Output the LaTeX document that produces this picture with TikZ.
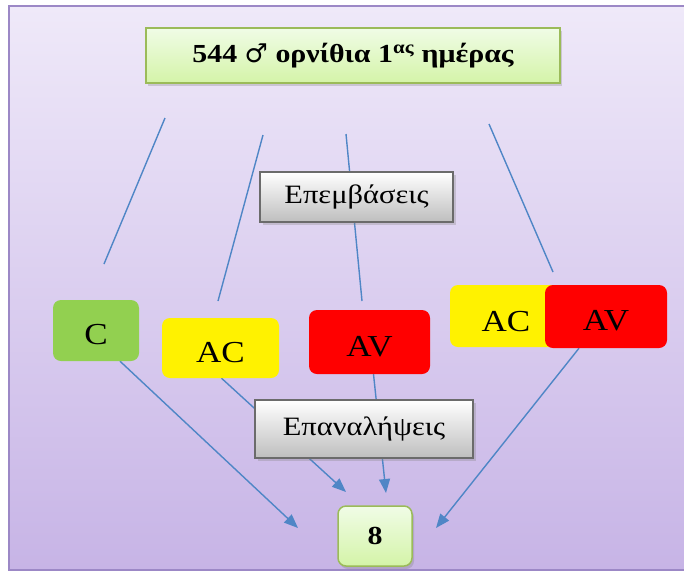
\documentclass[tikz,border=0pt]{standalone}
\usepackage{fontspec}
\setmainfont{Liberation Serif}[FakeStretch=1.15]
\newfontfamily\symfont{DejaVu Sans}
\usetikzlibrary{arrows.meta,shadows,backgrounds,calc}
\pgfdeclarelayer{bgframe}
\pgfdeclarelayer{background}
\pgfsetlayers{bgframe,background,main}
\definecolor{frametop}{HTML}{EFE9F9}
\definecolor{framebot}{HTML}{C7B4E6}
\definecolor{frameline}{HTML}{9C88C6}
\definecolor{lgtop}{HTML}{F0FCE6}
\definecolor{lgbot}{HTML}{D4F4A8}
\definecolor{lgline}{HTML}{9BBB59}
\definecolor{cgreen}{HTML}{92D050}
\definecolor{conn}{HTML}{4F86C6}
\definecolor{grayline}{HTML}{6B6B6B}
\definecolor{graybot}{HTML}{BEBEBE}
\tikzset{
  lightbox/.style={draw=lgline, line width=1.5pt, top color=lgtop, bottom color=lgbot,
    drop shadow={shadow xshift=2pt, shadow yshift=-3pt, opacity=0.3}, inner sep=0pt},
  graybox/.style={draw=grayline, line width=2.5pt, top color=white, bottom color=graybot,
    drop shadow={shadow xshift=3pt, shadow yshift=-3pt, opacity=0.3}, inner sep=0pt,
    font=\fontsize{26.5}{30}\selectfont},
  colbox/.style={rounded corners=8pt, inner sep=0pt, text height=28pt, text depth=0pt,
    font=\fontsize{30.5}{34}\selectfont},
  conline/.style={draw=conn, line width=1.4pt},
  conarrow/.style={conline, -{Triangle[length=14pt,width=11pt]}}
}
\begin{document}
\begin{tikzpicture}[x=1pt,y=-1pt]
\useasboundingbox (0,0) rectangle (684,571);
\begin{pgfonlayer}{bgframe}
\fill[white] (0,0) rectangle (684,571);
\draw[draw=frameline, line width=1.5pt, top color=frametop, bottom color=framebot]
  (9,6) rectangle (695,570);
\end{pgfonlayer}

% nodes
\node[lightbox, minimum width=414pt, minimum height=55pt] (top) at (353,55.5)
  {\fontsize{26}{30}\selectfont\bfseries 544 {\symfont\mdseries ♂} ορνίθια 1\textsuperscript{ας} ημέρας};
\node[graybox, minimum width=193pt, minimum height=50pt] (epem) at (356.5,197) {Επεμβάσεις};
\node[colbox, fill=cgreen, minimum width=86pt, minimum height=61pt] (C) at (96,330.5) {C};
\node[colbox, fill=yellow, minimum width=117pt, minimum height=60pt] (AC1) at (220.5,348) {AC};
\node[colbox, fill=red, minimum width=121pt, minimum height=64pt] (AV1) at (369.5,342) {AV};
\node[colbox, fill=yellow, minimum width=118pt, minimum height=62pt] (AC2) at (509,316) {};
\node[colbox, text height=28pt] (AC2t) at (506,317) {AC};
\node[colbox, fill=red, minimum width=122pt, minimum height=63pt] (AV2) at (606,316.5) {AV};
\node[graybox, minimum width=218pt, minimum height=58pt] (epan) at (364,429) {Επαναλήψεις};
\node[lightbox, rounded corners=8pt, minimum width=74pt, minimum height=60pt] (eight) at (375,536)
  {\fontsize{26}{30}\selectfont\bfseries 8};

% free ends
\coordinate (l1a) at (165,118); \coordinate (l1b) at (104,264);
\coordinate (l2a) at (263,135); \coordinate (l2b) at (218,301);
\coordinate (l3a) at (346,134); \coordinate (l3b) at (362,301);
\coordinate (l4a) at (489,124); \coordinate (l4b) at (553,272);
\coordinate (t1) at (298,528);
\coordinate (t2) at (346,492);
\coordinate (t3) at (386,493);
\coordinate (t4) at (436,528);

\begin{pgfonlayer}{background}
\draw[conline] (l1a) -- (l1b);
\draw[conline] (l2a) -- (l2b);
\draw[conline] (l3a) -- (l3b);
\draw[conline] (l4a) -- (l4b);
\draw[conarrow] ($(C.south)+(24,0)$) -- (t1);
\draw[conarrow] ($(AC1.south)+(1,0)$) -- (t2);
\draw[conarrow] ($(AV1.south)+(4,0)$) -- (t3);
\draw[conarrow] ($(AV2.south)+(-27,0)$) -- (t4);
\end{pgfonlayer}
\end{tikzpicture}
\end{document}
